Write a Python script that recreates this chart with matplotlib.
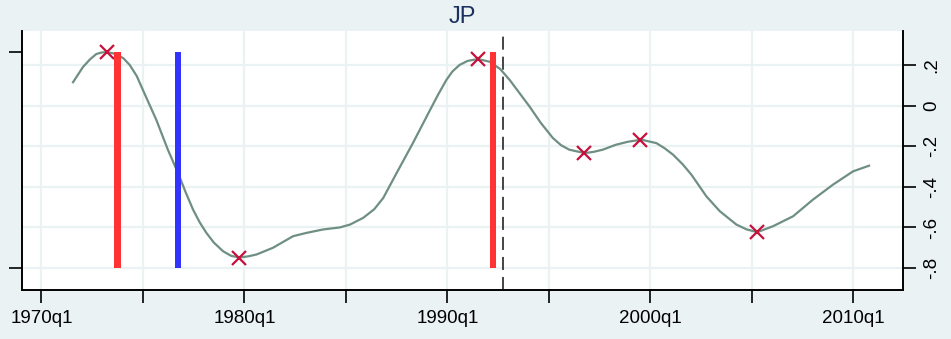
import matplotlib
matplotlib.use('Agg')
import matplotlib.pyplot as plt

# cycle series (quarterly dates as decimal years)
dates = [1971.56, 1972.05, 1972.4, 1972.71, 1973.0, 1973.28, 1973.5, 1973.77, 1974.05,
         1974.35, 1974.7, 1975.0, 1975.66, 1976.23, 1976.73, 1977.1, 1977.47, 1977.8,
         1978.13, 1978.5, 1978.95, 1979.35, 1979.77, 1980.2, 1980.6, 1981.41,
         1982.4, 1983.05, 1983.87, 1984.7, 1985.2, 1985.85, 1986.4, 1986.84, 1987.5,
         1988.3, 1989.13, 1989.55, 1989.95, 1990.25, 1990.6, 1991.0, 1991.5, 1992.08,
         1992.6, 1993.07, 1994.05, 1994.6, 1995.2, 1995.6, 1996.0, 1996.76, 1997.2,
         1997.66, 1998.3, 1998.9, 1999.56, 2000.3, 2000.7, 2001.12, 2001.6, 2002.02,
         2002.76, 2003.42, 2004.24, 2004.75, 2005.27, 2006.04, 2007.03, 2008.01,
         2009.0, 2009.98, 2010.77]
cycle = [0.115, 0.19, 0.228, 0.254, 0.262, 0.262, 0.258, 0.249, 0.232,
         0.20, 0.145, 0.077, -0.07, -0.217, -0.332, -0.425, -0.512, -0.575,
         -0.627, -0.675, -0.717, -0.740, -0.748, -0.742, -0.733, -0.70,
         -0.643, -0.627, -0.61, -0.60, -0.586, -0.553, -0.51, -0.455, -0.332,
         -0.185, -0.025, 0.055, 0.126, 0.168, 0.2, 0.22, 0.229, 0.216,
         0.18, 0.126, -0.005, -0.085, -0.16, -0.195, -0.217, -0.234, -0.228,
         -0.217, -0.193, -0.178, -0.168, -0.185, -0.21, -0.242, -0.29, -0.34,
         -0.447, -0.52, -0.586, -0.610, -0.623, -0.594, -0.545, -0.463,
         -0.389, -0.324, -0.296]

# turning points
tp_dates = [1973.25, 1979.75, 1991.5, 1996.75, 1999.5, 2005.25]
tp_vals = [0.262, -0.748, 0.229, -0.234, -0.168, -0.623]

# event bars
red_dates = [1973.75, 1992.25]
blue_dates = [1976.75]
dash_date = 1992.75

xticks = [1970, 1975, 1980, 1985, 1990, 1995, 2000, 2005, 2010]
xlabels = ['1970q1', '', '1980q1', '', '1990q1', '', '2000q1', '', '2010q1']
yticks = [0.2, 0, -0.2, -0.4, -0.6, -0.8]
ylabels = ['.2', '0', '-.2', '-.4', '-.6', '-.8']

bg = '#eaf2f3'
plt.rcParams['font.family'] = ['Liberation Sans', 'DejaVu Sans']

fig = plt.figure(figsize=(9.51, 3.39), dpi=100, facecolor=bg)
ax = fig.add_axes([0.02345, 0.1445, 0.9264, 0.7640])
ax2 = ax.twinx()

ax.set_facecolor('white')
ax.grid(True, color=bg, linewidth=1.6)
ax.set_axisbelow(True)

ax.plot(dates, cycle, color='#6f8f83', linewidth=1.6, zorder=2)
ax.plot(tp_dates, tp_vals, linestyle='none', marker='x', markersize=10,
        markeredgewidth=1.6, color='#c8103c', zorder=4)
ax.axvline(dash_date, color='#444444', linewidth=1.4,
           linestyle=(0, (6.7, 3.6)), zorder=3)

ax2.bar(red_dates, [1] * len(red_dates), width=0.33, color='#ff3333', zorder=3)
ax2.bar(blue_dates, [1] * len(blue_dates), width=0.3, color='#3333ff', zorder=3)

ax.set_xlim(1969.06, 2012.46)
ax.set_ylim(-0.908, 0.367)
ax2.set_ylim(-0.102, 1.097)

ax.set_xticks(xticks)
ax.set_xticklabels(xlabels)
ax.set_yticks(yticks)
ax.set_yticklabels(ylabels, rotation=90, va='center')
ax.yaxis.tick_right()
ax2.yaxis.tick_left()
ax2.set_yticks([0, 1])
ax2.set_yticklabels(['', ''])

for a in (ax, ax2):
    a.spines['top'].set_visible(False)
    for s in ('left', 'right', 'bottom'):
        a.spines[s].set_linewidth(1.2)
    a.tick_params(length=9.5, width=1.2, labelsize=13.5, colors='black')
ax.tick_params(axis='x', pad=5)
ax.tick_params(axis='y', pad=5)

ax.set_title('JP', fontsize=17, color='#1a3060', pad=6)

fig.savefig('out.png', dpi=100, facecolor=bg)
